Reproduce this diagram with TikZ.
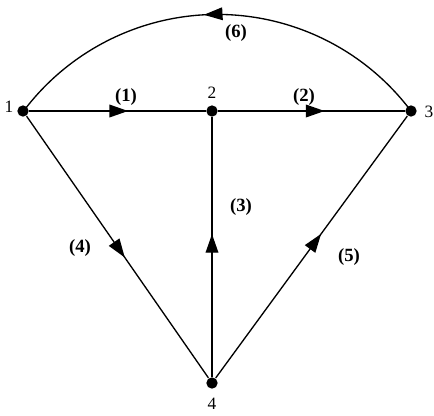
\documentclass[tikz,border=0pt]{standalone}
\usepackage{fontspec}
\setmainfont{Liberation Serif}
\usetikzlibrary{arrows.meta,decorations.markings}

\tikzset{
  vertex/.style={circle,fill=black,inner sep=0pt,minimum size=8.5pt},
  vlab/.style={font=\fontsize{13}{15}\selectfont},
  edgelab/.style={font=\fontsize{14}{16}\selectfont\bfseries},
  midarrow/.style={postaction={decorate},
    decoration={markings,mark=at position #1 with {\arrow{Triangle[length=14pt,width=9.5pt]}}}}
}

\begin{document}
\begin{tikzpicture}[x=0.75pt,y=-0.75pt,line width=1pt]
  \useasboundingbox (0,0) rectangle (434,415);
  % vertices
  \node[vertex] (n1) at (23,111) {};
  \node[vertex] (n2) at (212,111) {};
  \node[vertex] (n3) at (411,111) {};
  \node[vertex] (n4) at (212,383) {};
  \node[vlab] (l1) at (9,107) {1};
  \node[vlab] (l2) at (212,93) {2};
  \node[vlab] (l3) at (429,112) {3};
  \node[vlab] (l4) at (212,404) {4};
  % edges
  \draw[midarrow=0.56] (n1) -- (n2);
  \draw[midarrow=0.57] (n2) -- (n3);
  \draw[midarrow=0.55] (n4) -- (n2);
  \draw[midarrow=0.54] (n1) -- (n4);
  \draw[midarrow=0.55] (n4) -- (n3);
  \draw[midarrow=0.53] (n3.center) arc[start angle=37,end angle=143,radius=181.9pt];
  % edge labels
  \node[edgelab] (e1) at (126,97) {(1)};
  \node[edgelab] (e2) at (304,97) {(2)};
  \node[edgelab] (e3) at (241,207) {(3)};
  \node[edgelab] (e4) at (80,248) {(4)};
  \node[edgelab] (e5) at (349,257) {(5)};
  \node[edgelab] (e6) at (236,33) {(6)};
\end{tikzpicture}
\end{document}
